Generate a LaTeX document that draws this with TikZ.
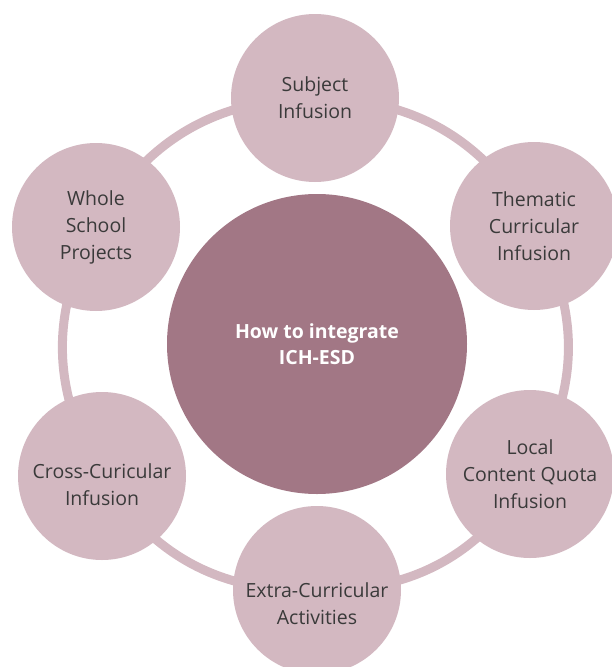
\documentclass[tikz,border=0pt]{standalone}
\usepackage{fontspec}
\setmainfont{Open Sans}
\usetikzlibrary{backgrounds}
\definecolor{petalfill}{HTML}{D3B8C1}
\definecolor{hubfill}{HTML}{A27785}
\definecolor{petalink}{HTML}{3A3A3A}
\begin{document}
\begin{tikzpicture}[x=1pt,y=1pt,
  petal/.style={circle,fill=petalfill,minimum size=168pt,inner sep=0pt,align=center,
    text=petalink,font=\fontsize{19.5}{27}\selectfont},
  petallabel/.style={align=center,text=petalink,font=\fontsize{19.5}{27}\selectfont},
  hub/.style={circle,fill=hubfill,minimum size=300pt,inner sep=0pt,align=center,
    text=white,font=\bfseries\fontsize{19.5}{26.5}\selectfont},
  ring/.style={draw=petalfill,line width=9pt,bend left=30}]
\useasboundingbox (0,0) rectangle (611,-667);
\node[hub] (hub) at (317,-344) {How to integrate\\ICH-ESD};
\node[petal] (subj) at (315,-98) {Subject\\Infusion};
\node[petal] (them) at (534,-226) {Thematic\\Curricular\\Infusion};
\node[petal] (local) at (530,-474) {Local\\Content Quota\\Infusion};
\node[petal,label={[petallabel,yshift=-14pt]center:{Extra-Curricular\\Activities}}] (extra) at (317,-590) {};
\node[petal,label={[petallabel,yshift=-9pt]center:{Cross-Curicular\\Infusion}}] (cross) at (102,-476) {};
\node[petal] (whole) at (96,-227) {Whole\\School\\Projects};
\begin{scope}[on background layer]
\draw[ring] (subj.center) to (them.center);
\draw[ring] (them.center) to (local.center);
\draw[ring] (local.center) to (extra.center);
\draw[ring] (extra.center) to (cross.center);
\draw[ring] (cross.center) to (whole.center);
\draw[ring] (whole.center) to (subj.center);
\end{scope}
\end{tikzpicture}
\end{document}
